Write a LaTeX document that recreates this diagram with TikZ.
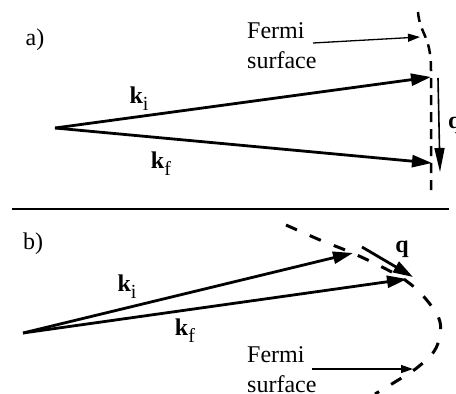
\documentclass[tikz,border=0pt]{standalone}
\usepackage{fontspec}
\setmainfont{Liberation Serif}
\usetikzlibrary{arrows.meta}
\newcommand{\kvec}[1]{\textbf{k}\raisebox{-0.3em}{\fontsize{20}{20}\selectfont #1}}

\begin{document}
\begin{tikzpicture}[x=1pt, y=-1pt,
every node/.style={font=\fontsize{24}{30}\selectfont, inner sep=0pt},
vec/.style={-{Triangle[length=20pt,width=12pt]}, line width=2.8pt},
qvec/.style={-{Triangle[length=24pt,width=10pt]}, line width=1.6pt},
pointer/.style={-{Triangle[length=12pt,width=8pt]}, line width=1.3pt},
fermisurf/.style={dash pattern=on 10pt off 7pt, line width=2.5pt},
fermicurve/.style={dash pattern=on 12pt off 14pt, line width=3pt},
divider/.style={line width=1.2pt}]

\useasboundingbox (0,0) rectangle (456,394);

\node (la) at (35,40) {a)};
\coordinate (oa)  at (55,128);
\coordinate (kia) at (431,77);
\coordinate (kfa) at (432,163);
\coordinate (qsa) at (438,78);
\coordinate (qea) at (440,172);
\draw[vec] (oa) -- (kia);
\draw[vec] (oa) -- (kfa);
\draw[qvec] (qsa) -- (qea);
\node (kila) at (139,99) {\kvec{i}};
\node (kfla) at (161,164) {\kvec{f}};
\node[anchor=base west] (qla) at (448,128) {\textbf{q}};
\draw[fermisurf] (418,12) .. controls (420,35) and (431,35) .. (431,70) -- (431,190);
\node[anchor=north west, align=left] (fsa) at (247,22) {Fermi\\surface};
\coordinate (fpa) at (313,43);
\coordinate (fta) at (420,37);
\draw[pointer] (fpa) -- (fta);

\coordinate (sl) at (12,209);
\coordinate (sr) at (449,209);
\draw[divider] (sl) -- (sr);

\node (lb) at (33,244) {b)};
\coordinate (ob)  at (23,333);
\coordinate (kib) at (353,253);
\coordinate (kfb) at (407,279);
\coordinate (qsb) at (362,247);
\coordinate (qeb) at (413,277);
\draw[fermicurve] plot[smooth, tension=0.6] coordinates {(286,225) (320,240) (350,252) (380,266) (405,280) (425,298) (440,322) (436,348) (418,367) (395,382) (375,394)};
\draw[vec] (ob) -- (kib);
\draw[vec] (ob) -- (kfb);
\draw[vec] (qsb) -- (qeb);
\node (kilb) at (127,287) {\kvec{i}};
\node (kflb) at (185,331) {\kvec{f}};
\node (qlb) at (402,249) {\textbf{q}};
\node[anchor=north west, align=left] (fsb) at (247,346) {Fermi\\surface};
\coordinate (fpb) at (312,369);
\coordinate (ftb) at (413,369);
\draw[pointer] (fpb) -- (ftb);
\end{tikzpicture}
\end{document}
